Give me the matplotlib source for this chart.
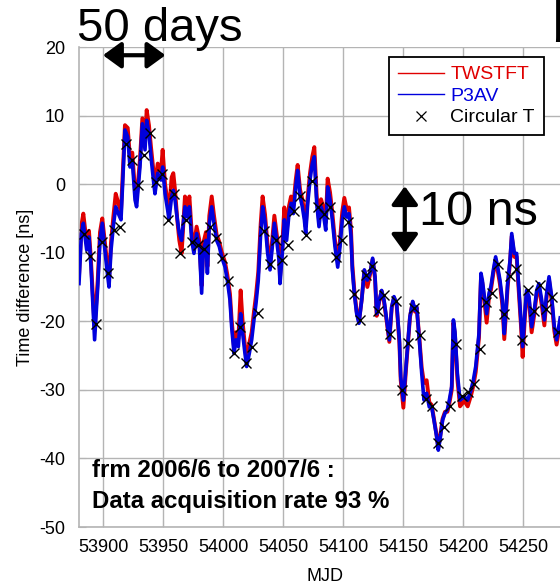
import matplotlib
matplotlib.use("Agg")
import matplotlib.pyplot as plt
from matplotlib.lines import Line2D

plt.rcParams['font.family'] = ['Liberation Sans', 'DejaVu Sans']
plt.rcParams['axes.unicode_minus'] = False

# ===============================
# Data
# ===============================
mjd_line = [
    53880.0, 53882.0, 53883.6, 53886.4, 53888.3, 53890.0, 53893.0, 53895.6, 53897.5, 53899.4,
    53901.0, 53903.0, 53905.0, 53906.7, 53908.6, 53910.6, 53912.8, 53915.0, 53917.0, 53918.3,
    53920.6, 53922.5, 53924.4, 53926.7, 53928.0, 53930.8, 53932.8, 53935.0, 53936.4, 53938.3,
    53940.0, 53942.0, 53943.3, 53945.6, 53948.3, 53949.7, 53951.7, 53953.9, 53955.0, 53957.2,
    53958.6, 53960.0, 53962.0, 53963.6, 53965.5, 53968.3, 53970.3, 53972.0, 53973.9, 53975.8,
    53978.0, 53980.3, 53982.2, 53983.6, 53985.8, 53987.0, 53988.6, 53990.6, 53992.5, 53994.7,
    53996.9, 53998.9, 54001.7, 54003.6, 54005.8, 54007.2, 54009.2, 54010.8, 54012.8, 54014.7,
    54016.4, 54018.3, 54019.7, 54021.9, 54023.9, 54025.8, 54027.5, 54029.4, 54031.4, 54033.0,
    54035.0, 54037.2, 54039.2, 54041.1, 54042.8, 54044.7, 54046.7, 54047.5, 54049.4, 54051.1,
    54053.0, 54055.0, 54056.7, 54058.6, 54060.6, 54062.2, 54064.2, 54066.1, 54067.8, 54068.9,
    54070.6, 54072.5, 54074.4, 54076.1, 54078.1, 54080.0, 54081.7, 54083.6, 54085.6, 54087.2,
    54089.2, 54091.1, 54093.3, 54095.6, 54097.5, 54099.4, 54101.1, 54103.0, 54105.0, 54106.7,
    54107.8, 54109.4, 54111.4, 54113.3, 54115.6, 54117.8, 54120.3, 54122.5, 54124.7, 54126.7,
    54128.1, 54130.3, 54132.2, 54134.2, 54136.4, 54138.6, 54140.6, 54142.5, 54144.7, 54147.0,
    54148.1, 54150.3, 54152.5, 54154.4, 54155.8, 54158.1, 54160.0, 54161.4, 54163.6, 54165.6,
    54167.5, 54169.7, 54171.9, 54173.9, 54175.8, 54178.0, 54179.4, 54180.8, 54183.0, 54185.0,
    54187.0, 54188.6, 54190.6, 54192.0, 54193.3, 54195.3, 54197.5, 54201.1, 54203.9, 54206.7,
    54208.6, 54210.6, 54212.2, 54213.3, 54215.0, 54216.1, 54217.8, 54219.7, 54221.7, 54223.3,
    54225.3, 54227.2, 54228.9, 54230.8, 54232.8, 54234.4, 54235.6, 54237.2, 54239.2, 54240.6,
    54242.8, 54244.7, 54246.1, 54248.3, 54249.7, 54251.7, 54253.0, 54255.0, 54257.2, 54259.4,
    54261.4, 54263.3, 54265.6, 54267.8, 54269.7, 54271.7, 54273.9, 54276.1, 54278.0, 54281.0,
]

twstft = [
    -13.5, -6.0, -4.3, -8.6, -6.8, -11.2, -21.0, -14.0, -7.0, -5.0,
    -7.6, -11.0, -14.0, -8.4, -4.8, -1.4, -2.8, -4.0, 3.6, 8.6,
    8.2, 3.8, 4.6, -1.0, -2.2, 3.6, 9.6, 6.2, 10.8, 8.6,
    5.4, 2.0, -0.2, 3.0, 1.8, 5.0, 0.0, -2.6, -4.0, 1.0,
    1.6, -0.8, -5.4, -8.2, -10.1, -1.8, -3.6, -1.8, -7.0, -9.0,
    -6.2, -8.2, -14.8, -8.6, -7.0, -12.0, -4.6, -1.8, -4.6, -7.4,
    -8.4, -9.9, -11.4, -13.2, -16.0, -19.8, -23.8, -21.6, -22.6, -15.5,
    -20.2, -23.6, -25.4, -23.2, -21.6, -18.6, -16.2, -12.8, -5.8, -1.8,
    -4.4, -9.0, -11.6, -8.0, -4.6, -7.2, -10.0, -13.6, -9.0, -3.4,
    -7.0, -3.2, -1.8, -3.2, 0.6, 2.8, -0.8, -2.2, -4.2, -6.2,
    -1.8, 1.6, 4.0, 5.4, -1.8, -5.2, -2.2, -3.4, -5.6, 0.8,
    -1.2, -4.2, -8.2, -11.2, -8.2, -4.0, -2.0, -3.6, -3.4, -6.8,
    -11.8, -15.4, -18.6, -20.0, -16.8, -12.6, -15.0, -13.2, -11.0, -13.8,
    -19.2, -17.0, -15.6, -17.2, -20.0, -23.0, -18.0, -16.6, -17.6, -23.2,
    -28.6, -32.6, -27.0, -22.6, -19.4, -17.2, -18.6, -18.0, -22.4, -26.8,
    -29.0, -28.6, -31.8, -32.2, -34.2, -36.6, -38.4, -37.0, -34.2, -33.2,
    -33.2, -32.0, -30.0, -20.2, -22.0, -28.4, -32.4, -31.6, -32.4, -30.8,
    -29.4, -27.4, -24.4, -22.4, -13.6, -14.4, -17.0, -20.2, -16.4, -15.4,
    -13.0, -11.0, -12.6, -14.6, -17.6, -22.6, -19.4, -15.0, -11.4, -7.6,
    -10.6, -10.6, -14.6, -20.6, -25.2, -19.0, -16.0, -17.0, -21.6, -19.0,
    -16.0, -15.0, -17.6, -20.6, -16.4, -14.0, -17.0, -21.4, -23.4, -20.2,
]

p3av = [
    -14.5, -7.2, -5.7, -9.6, -7.7, -12.0, -22.7, -15.0, -8.2, -5.7,
    -8.6, -12.0, -15.0, -9.6, -6.2, -3.3, -4.3, -5.2, 2.5, 7.9,
    6.9, 2.5, 3.5, -2.3, -3.3, 2.5, 8.8, 5.0, 9.3, 7.4,
    4.0, 0.6, -1.4, 1.6, 0.6, 2.5, -1.4, -3.8, -5.2, -1.8,
    -0.9, -2.3, -5.2, -7.2, -8.2, -3.3, -4.8, -3.3, -8.2, -10.1,
    -7.2, -9.1, -15.9, -9.6, -8.2, -13.0, -5.7, -3.3, -5.7, -8.2,
    -9.1, -10.6, -12.1, -14.0, -16.9, -20.8, -24.7, -22.7, -23.7, -18.9,
    -21.8, -24.7, -26.6, -24.7, -22.7, -19.8, -17.4, -14.0, -7.2, -3.3,
    -5.5, -10.1, -12.5, -9.1, -5.7, -8.2, -11.1, -14.5, -10.1, -5.2,
    -8.2, -4.3, -2.8, -4.3, -0.4, 2.0, -1.8, -3.3, -5.2, -7.2,
    -2.8, 0.6, 3.0, 4.0, -2.8, -6.2, -3.3, -4.3, -6.7, -0.4,
    -2.3, -5.2, -9.1, -12.1, -9.1, -5.2, -3.3, -4.8, -4.3, -7.7,
    -12.5, -15.9, -18.9, -20.3, -16.9, -12.5, -14.0, -13.0, -10.8, -13.5,
    -18.9, -16.9, -15.5, -16.9, -19.8, -22.7, -17.9, -16.4, -17.4, -22.7,
    -28.1, -31.5, -26.6, -22.3, -19.3, -17.1, -18.4, -17.9, -22.7, -27.6,
    -31.5, -30.5, -32.5, -32.5, -34.4, -36.8, -38.8, -37.3, -34.4, -33.4,
    -32.9, -31.5, -29.5, -19.8, -21.5, -27.6, -31.5, -31.0, -31.5, -30.0,
    -28.6, -26.6, -23.7, -21.8, -13.0, -14.0, -16.4, -18.9, -15.9, -14.9,
    -12.5, -10.6, -12.1, -14.0, -16.9, -21.8, -18.9, -14.5, -11.1, -7.2,
    -10.1, -10.1, -14.0, -19.8, -23.7, -18.4, -15.5, -16.4, -20.8, -18.4,
    -15.5, -14.5, -16.9, -19.8, -15.9, -13.5, -16.4, -20.8, -22.7, -19.5,
]

mjd_ct = [
    53884, 53889, 53894, 53899, 53904, 53909, 53914, 53919, 53924, 53929,
    53934, 53939, 53944, 53949, 53954, 53959, 53964, 53969, 53974, 53979,
    53984, 53989, 53994, 53999, 54004, 54009, 54014, 54019, 54024, 54029,
    54034, 54039, 54044, 54049, 54054, 54059, 54064, 54069, 54074, 54079,
    54084, 54089, 54094, 54099, 54104, 54109, 54114, 54119, 54124, 54129,
    54134, 54139, 54144, 54149, 54154, 54159, 54164, 54169, 54174, 54179,
    54184, 54189, 54194, 54199, 54204, 54209, 54214, 54219, 54224, 54229,
    54234, 54239, 54244, 54249, 54254, 54259, 54264, 54269, 54274, 54279,
]

circular_t = [
    -7.2, -10.5, -20.4, -8.4, -13.0, -6.7, -6.3, 5.9, 3.5, -0.1,
    4.2, 7.4, 0.3, 1.5, -5.2, -1.4, -10.0, -5.2, -8.4, -8.9,
    -9.4, -6.3, -7.9, -10.7, -14.1, -24.6, -20.8, -26.1, -23.8, -18.8,
    -6.9, -11.7, -8.2, -11.1, -8.9, -3.9, -1.7, -7.4, 0.5, -3.3,
    -4.3, -3.4, -10.6, -8.2, -5.5, -16.0, -19.8, -13.3, -11.9, -18.5,
    -16.2, -21.9, -17.0, -30.0, -23.2, -18.1, -22.0, -31.3, -32.4, -37.8,
    -35.4, -32.4, -23.3, -30.9, -30.3, -29.2, -24.0, -17.2, -15.9, -11.7,
    -19.0, -13.4, -12.4, -22.8, -15.4, -18.5, -14.7, -18.2, -16.4, -21.5,
]

assert len(mjd_line) == len(twstft) == len(p3av)
assert len(mjd_ct) == len(circular_t)

x_ticks = [53900, 53950, 54000, 54050, 54100, 54150, 54200, 54250]
y_ticks = [-50, -40, -30, -20, -10, 0, 10, 20]

RED = '#e00000'
BLUE = '#0000dd'
GRID = '#b4b4b4'

# ===============================
# Figure
# ===============================
W, H = 560, 586
fig = plt.figure(figsize=(W / 100, H / 100), dpi=100)
ax = fig.add_axes([79 / W, 59 / H, 492 / W, 480 / H])

ax.plot(mjd_line, twstft, color=RED, lw=2.8, zorder=2)
ax.plot(mjd_line, p3av, color=BLUE, lw=2.6, zorder=3)
ax.plot(mjd_ct, circular_t, ls='none', marker='x', ms=7, mew=1.0,
        color='black', zorder=4)

ax.set_xlim(53880, 54290)
ax.set_ylim(-50, 20)
ax.set_xticks(x_ticks)
ax.set_yticks(y_ticks)
ax.tick_params(direction='in', length=5, color=GRID, labelsize=13)
ax.tick_params(axis='y', pad=10)
ax.tick_params(axis='x', pad=9)
ax.grid(True, color=GRID, lw=1.0)
ax.set_axisbelow(True)
for side in ['top', 'right']:
    ax.spines[side].set_visible(False)
for side in ['left', 'bottom']:
    ax.spines[side].set_color(GRID)
    ax.spines[side].set_linewidth(1.2)

ax.set_ylabel('Time difference [ns]', fontsize=13, labelpad=4)
ax.set_xlabel('MJD', fontsize=13, labelpad=8)

# legend
handles = [
    Line2D([], [], color=RED, lw=1.0, label='TWSTFT'),
    Line2D([], [], color=BLUE, lw=1.0, label='P3AV'),
    Line2D([], [], color='black', ls='none', marker='x', ms=7, mew=0.9,
           label='Circular T'),
]
leg = ax.legend(handles=handles, loc='upper left',
                bbox_to_anchor=(389 / W, 1 - 57 / H), bbox_transform=fig.transFigure,
                fontsize=14, labelcolor='linecolor', fancybox=False,
                edgecolor='black', framealpha=1, borderpad=0.45,
                handlelength=2.4, handletextpad=0.3, labelspacing=0.2,
                borderaxespad=0)
leg.get_frame().set_linewidth(1.3)

# annotations
ax.annotate('', xy=(53952, 18.8), xytext=(53900, 18.8),
            arrowprops=dict(arrowstyle='<|-|>,head_length=1.1,head_width=0.8',
                            lw=3, color='black', shrinkA=0, shrinkB=0,
                            mutation_scale=10))
ax.annotate('', xy=(54151.5, -10.0), xytext=(54151.5, -0.3),
            arrowprops=dict(arrowstyle='<|-|>,head_length=1.1,head_width=0.8',
                            lw=3, color='black', shrinkA=0, shrinkB=0,
                            mutation_scale=10))
fig.text(77 / W, 1 - 41 / H, '50 days', fontsize=34, ha='left', va='baseline')
fig.text(419 / W, 1 - 225 / H, '10 ns', fontsize=35, ha='left', va='baseline')
fig.text(92 / W, 1 - 477 / H, 'frm 2006/6 to 2007/6 :', fontsize=17.3,
         fontweight='bold', ha='left', va='baseline')
fig.text(92 / W, 1 - 508 / H, 'Data acquisition rate 93 %', fontsize=17.3,
         fontweight='bold', ha='left', va='baseline')
fig.text(551 / W, 1 - 41 / H, 'b', fontsize=42, fontweight='bold',
         ha='left', va='baseline')

fig.savefig('out.png', dpi=100)
